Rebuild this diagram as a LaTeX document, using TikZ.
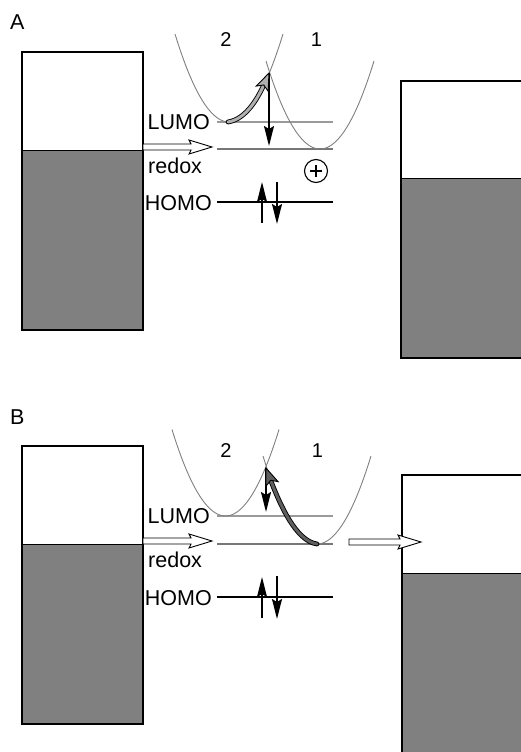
\documentclass[tikz,border=0pt]{standalone}
\usepackage{fontspec}
\setmainfont{Liberation Sans}
\usetikzlibrary{arrows.meta,decorations.markings,calc}
\definecolor{bandgray}{HTML}{808080}
\definecolor{curvegray}{HTML}{808080}
\definecolor{lumogray}{HTML}{9A9A9A}
\definecolor{redoxgray}{HTML}{777777}
\definecolor{arrlight}{HTML}{B0B0B0}
\definecolor{arrdark}{HTML}{5E5E5E}
\tikzset{
  electrode/.style={draw=black, line width=1.6pt},
  bandfill/.style={fill=bandgray},
  divider/.style={draw=black, line width=1pt},
  pes/.style={draw=curvegray, line width=0.9pt},
  lumolvl/.style={draw=lumogray, line width=1.4pt},
  redoxlvl/.style={draw=redoxgray, line width=1.4pt},
  homolvl/.style={draw=black, line width=1.2pt},
  spin/.style={draw=black, line width=1.7pt, -{Stealth[length=20pt,width=10pt,inset=3pt]}},
  openarr/.style={draw=black, line width=0.9pt, fill=white},
  lbl/.style={font=\fontsize{21.5}{24}\selectfont, inner sep=0pt},
  numlbl/.style={font=\fontsize{20}{22}\selectfont, inner sep=0pt},
  fatline/.style={draw=black, line width=0.9pt, double=#1, double distance=3pt, line cap=round, shorten >=10pt},
  fathead/.style={decorate, decoration={markings, mark=at position 0.999 with {\filldraw[draw=black, line width=0.9pt, fill=#1] (0,0) -- (-17,6.5) -- (-13,0) -- (-17,-6.5) -- cycle;}}},
}
\newcommand\myopenarrow[2]{%
  \draw[openarr] ($(#1)+(0,-3)$) -- ($(#2)+(-21,-3)$) -- ($(#2)+(-23,-7)$) -- (#2) -- ($(#2)+(-23,7)$) -- ($(#2)+(-21,3)$) -- ($(#1)+(0,3)$) -- cycle;}
\begin{document}
\begin{tikzpicture}[x=1pt,y=-1pt]
\clip (0,0) rectangle (521,752);
\fill[white] (0,0) rectangle (521,752);

% ================= Panel A =================
\node[lbl, anchor=base west] (labA) at (10,30) {A};

% left electrode A
\fill[bandfill] (22,150) rectangle (143,330);
\draw[divider] (22,150) -- (143,150);
\draw[electrode] (22,52) rectangle (143,330);
% right electrode A
\fill[bandfill] (401,178) rectangle (535,358);
\draw[divider] (401,178) -- (535,178);
\draw[electrode] (401,81) rectangle (535,358);

% levels A
\coordinate (AL1) at (217,122); \coordinate (AL2) at (333,122);
\coordinate (AR1) at (217,149); \coordinate (AR2) at (333,149);
\coordinate (AH1) at (217,202); \coordinate (AH2) at (333,202);
\draw[lumolvl] (AL1) -- (AL2);
\draw[redoxlvl] (AR1) -- (AR2);
\draw[homolvl] (AH1) -- (AH2);

% parabolas A
\draw[pes] plot[domain=175:283, samples=60] (\x, {122-0.0302*(\x-229)^2});
\draw[pes] plot[domain=266:374, samples=60] (\x, {149-0.0302*(\x-320)^2});

\node[numlbl, anchor=base] (twoA) at (226,47) {2};
\node[numlbl, anchor=base] (oneA) at (316.5,47) {1};

\node[lbl, anchor=base east] (lumoA) at (210,129) {LUMO};
\node[lbl, anchor=base east] (homoA) at (212,210.5) {HOMO};
\node[lbl, anchor=base west] (redoxA) at (148,173) {redox};

% redox arrow A
\coordinate (rAs) at (143,147); \coordinate (rAt) at (212,147);
\myopenarrow{rAs}{rAt}

% plus
\node[circle, draw, line width=1.1pt, minimum size=23pt, inner sep=0pt] (plusA) at (316,171) {};
\draw[line width=1.1pt] ($(plusA.center)+(-6,0)$) -- ($(plusA.center)+(6,0)$);
\draw[line width=1.1pt] ($(plusA.center)+(0,-6)$) -- ($(plusA.center)+(0,6)$);

% transfer arrows A
\coordinate (crossA) at (269,73);
\coordinate (tipA) at (269,146);
\draw[spin] (crossA) -- (tipA);
\coordinate (startA) at (228,122);
\draw[fatline=arrlight] (startA) .. controls (247,119) and (259,96) .. (crossA);
\path[fathead=arrlight] (startA) .. controls (247,119) and (259,96) .. (crossA);

% spins A
\coordinate (sAu1) at (262,223); \coordinate (sAu2) at (262,182);
\coordinate (sAd1) at (277,182); \coordinate (sAd2) at (277,224);
\draw[spin] (sAu1) -- (sAu2);
\draw[spin] (sAd1) -- (sAd2);

% ================= Panel B =================
\node[lbl, anchor=base west] (labB) at (10,424) {B};

\fill[bandfill] (22,544) rectangle (143,724);
\draw[divider] (22,544) -- (143,544);
\draw[electrode] (22,446) rectangle (143,724);
\fill[bandfill] (402,573) rectangle (535,760);
\draw[divider] (402,573) -- (535,573);
\draw[electrode] (402,475) rectangle (535,760);

\coordinate (BL1) at (217,516); \coordinate (BL2) at (333,516);
\coordinate (BR1) at (217,544); \coordinate (BR2) at (333,544);
\coordinate (BH1) at (217,597); \coordinate (BH2) at (333,597);
\draw[lumolvl] (BL1) -- (BL2);
\draw[redoxlvl] (BR1) -- (BR2);
\draw[homolvl] (BH1) -- (BH2);

\draw[pes] plot[domain=172:279, samples=60] (\x, {516-0.0302*(\x-225.5)^2});
\draw[pes] plot[domain=263:371, samples=60] (\x, {544-0.0302*(\x-317)^2});

\node[numlbl, anchor=base] (twoB) at (226,457) {2};
\node[numlbl, anchor=base] (oneB) at (317.5,457) {1};

\node[lbl, anchor=base east] (lumoB) at (210,523) {LUMO};
\node[lbl, anchor=base east] (homoB) at (212,605) {HOMO};
\node[lbl, anchor=base west] (redoxB) at (148,567) {redox};

\coordinate (rBs) at (143,541); \coordinate (rBt) at (212,541);
\myopenarrow{rBs}{rBt}
\coordinate (rCs) at (349,542); \coordinate (rCt) at (421,542);
\myopenarrow{rCs}{rCt}

\coordinate (crossB) at (266,468);
\coordinate (tipB) at (266,512);
\draw[spin] (crossB) -- (tipB);
\coordinate (startB) at (317,544);
\draw[fatline=arrdark] (startB) .. controls (296,541) and (280,505) .. (crossB);
\path[fathead=arrdark] (startB) .. controls (296,541) and (280,505) .. (crossB);

\coordinate (sBu1) at (262,618); \coordinate (sBu2) at (262,577);
\coordinate (sBd1) at (277,576); \coordinate (sBd2) at (277,619);
\draw[spin] (sBu1) -- (sBu2);
\draw[spin] (sBd1) -- (sBd2);
\end{tikzpicture}
\end{document}
